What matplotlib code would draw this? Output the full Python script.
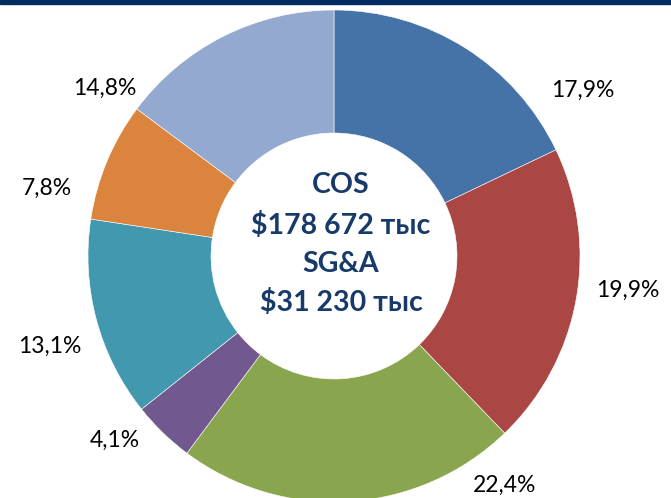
import matplotlib.pyplot as plt
from matplotlib.patches import Rectangle

# Shares of costs, clockwise from 12 o'clock
shares = [17.9, 19.9, 22.4, 4.1, 13.1, 7.8, 14.8]
labels = ['17,9%', '19,9%', '22,4%', '4,1%', '13,1%', '7,8%', '14,8%']
colors = ['#4572A7', '#AA4643', '#89A54E', '#71588F', '#4198AF', '#DB843D', '#93A9CF']
center_lines = ['COS', '$178 672 тыс', 'SG&A', '$31 230 тыс']

# label anchor points in pixels (x, y from top)
label_pos = [(583, 90), (628, 290), (505, 485), (115, 440), (50, 346), (47, 188), (105, 88)]

W, H = 671, 498
fig = plt.figure(figsize=(W / 100, H / 100), dpi=100)
ax = fig.add_axes([0, 0, 1, 1])

cx, cy, r = 334, H - 256, 246
ax.pie(shares, colors=colors, startangle=90, counterclock=False,
       center=(cx, cy), radius=r, frame=True,
       wedgeprops=dict(width=r * 0.5, edgecolor='white', linewidth=0.4))
ax.set_xlim(0, W)
ax.set_ylim(0, H)
ax.set_aspect('equal')
ax.axis('off')

for lab, (x, y) in zip(labels, label_pos):
    ax.text(x, H - y, lab, ha='center', va='center', fontsize=16.5,
            family='Lato', color='black')

ys = [185, 225, 264, 302]
for line, y in zip(center_lines, ys):
    ax.text(341, H - y, line, ha='center', va='center', fontsize=20.5,
            family='Lato', fontweight='bold', color='#173A6A')

# dark bar on the top edge
ax.add_patch(Rectangle((0, H - 4), W, 4, color='#002B5E', clip_on=False))

fig.savefig('out.png', dpi=100)
